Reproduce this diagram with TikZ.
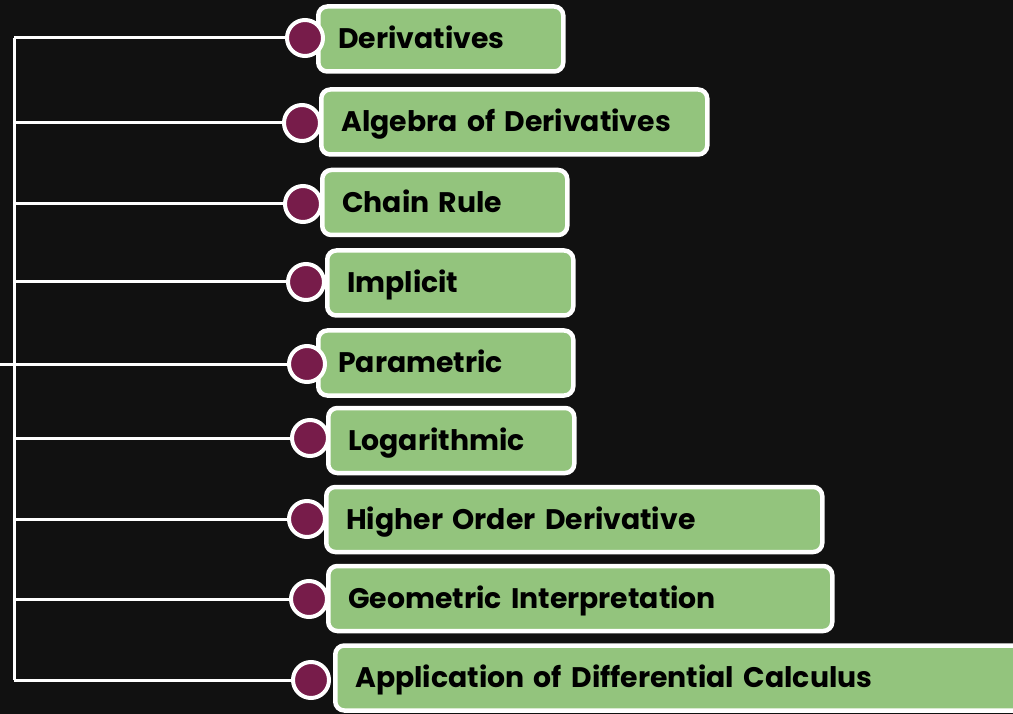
\documentclass[tikz,border=0pt]{standalone}
\usepackage{fontspec}
\setmainfont{Poppins}
\definecolor{bg}{HTML}{111111}
\definecolor{boxgreen}{HTML}{93C47D}
\definecolor{dot}{HTML}{771C4A}
\begin{document}
\begin{tikzpicture}[x=1pt,y=-1pt,
  box/.style={draw=white, line width=4.5pt, fill=boxgreen, rounded corners=9pt,
    anchor=west, align=left, inner xsep=20pt, minimum height=65pt,
    text height=19.5pt, text depth=0pt,
    font=\fontsize{28.3}{32}\selectfont\bfseries, text=black},
  dotnode/.style={circle, draw=white, line width=4pt, fill=dot, minimum size=36pt, inner sep=0pt},
  link/.style={draw=white, line width=3pt}]
\fill[bg] (0,0) rectangle (1013,714);
\useasboundingbox (0,0) rectangle (1013,714);
\clip (0,0) rectangle (1013,714);
% boxes
\node[box, text width=205pt] (b1) at (316,39) {Derivatives};
\node[box, text width=346pt] (b2) at (319,122) {Algebra of Derivatives};
\node[box, text width=205pt] (b3) at (320,202.5) {Chain Rule};
\node[box, text width=206pt] (b4) at (325,283) {Implicit};
\node[box, text width=215pt] (b5) at (316,363) {Parametric};
\node[box, text width=206pt] (b6) at (326,440.5) {Logarithmic};
\node[box, text width=456pt] (b7) at (324,519.5) {Higher Order Derivative};
\node[box, text width=464pt] (b8) at (326,598.5) {Geometric Interpretation};
\node[box, text width=655pt] (b9) at (333,678) {Application of Differential Calculus};
% dots
\node[dotnode] (d1) at (305,38) {};
\node[dotnode] (d2) at (302,123) {};
\node[dotnode] (d3) at (303,204) {};
\node[dotnode] (d4) at (306,282) {};
\node[dotnode] (d5) at (307,364) {};
\node[dotnode] (d6) at (310,438) {};
\node[dotnode] (d7) at (307,519) {};
\node[dotnode] (d8) at (309,599) {};
\node[dotnode] (d9) at (311,680) {};
% trunk coordinates
\coordinate (t1) at (14,38);
\coordinate (t2) at (14,123);
\coordinate (t3) at (14,204);
\coordinate (t4) at (14,282);
\coordinate (t5) at (14,364);
\coordinate (t6) at (14,438);
\coordinate (t7) at (14,519);
\coordinate (t8) at (14,599);
\coordinate (t9) at (14,680);
\coordinate (root) at (0,364);
\draw[link] (t1) -- (t9);
\draw[link] (root) -- (t5);
\foreach \i in {1,...,9} { \draw[link] (t\i) -- (d\i.west); }
\end{tikzpicture}
\end{document}
